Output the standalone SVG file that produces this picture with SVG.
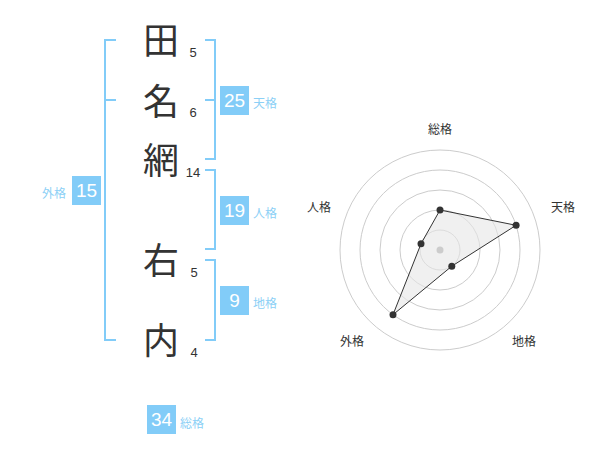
<svg xmlns="http://www.w3.org/2000/svg" width="600" height="470" viewBox="0 0 600 470">
<style>
.ch{font-family:"Noto Sans CJK JP","Noto Sans CJK SC",sans-serif;font-size:36px;fill:#333;text-anchor:middle}
.st{font-family:"Liberation Sans",Arial,sans-serif;font-size:13px;fill:#333;text-anchor:middle}
.br{fill:none;stroke:#82CCF8;stroke-width:2}
.box{fill:#82CCF8}
.num{font-family:"Liberation Sans",Arial,sans-serif;font-size:19px;fill:#fff;text-anchor:middle}
.lb{font-family:"Noto Sans CJK JP","Noto Sans CJK SC",sans-serif;font-size:12px;fill:#8CD0F6}
.ring{fill:none;stroke:#ccc;stroke-width:1}
.rl{font-family:"Noto Sans CJK JP","Noto Sans CJK SC",sans-serif;font-size:12px;fill:#333;text-anchor:middle}
.dot{fill:#333}
</style>
<g id="chars">
<text class="ch" x="161" y="54">田</text>
<text class="ch" x="161" y="115">名</text>
<text class="ch" x="161" y="174">網</text>
<text class="ch" x="161" y="274">右</text>
<text class="ch" x="161" y="354">内</text>
</g>
<g id="strokes">
<text class="st" x="193" y="57">5</text>
<text class="st" x="193" y="117">6</text>
<text class="st" x="193" y="177">14</text>
<text class="st" x="194" y="277">5</text>
<text class="st" x="194" y="357">4</text>
</g>
<g id="connectors">
<path class="br" d="M116,40 H105 V340 H116 M105,100 H116"/>
<path class="br" d="M205,40 H215 V159 H205 M205,100 H215"/>
<path class="br" d="M205,170 H215 V249 H205"/>
<path class="br" d="M205,260 H215 V340 H205"/>
</g>
<g id="tenkaku">
<rect class="box" x="220" y="86" width="29" height="29"/>
<text class="num" x="234.5" y="107">25</text>
<text class="lb" x="253" y="108">天格</text>
</g>
<g id="jinkaku">
<rect class="box" x="220" y="196" width="29" height="29"/>
<text class="num" x="234.5" y="217">19</text>
<text class="lb" x="253" y="218">人格</text>
</g>
<g id="chikaku">
<rect class="box" x="220" y="286" width="29" height="29"/>
<text class="num" x="234.5" y="307">9</text>
<text class="lb" x="253" y="308">地格</text>
</g>
<g id="gaikaku">
<rect class="box" x="72" y="176" width="29" height="29"/>
<text class="num" x="86.5" y="197">15</text>
<text class="lb" x="42" y="198">外格</text>
</g>
<g id="soukaku">
<rect class="box" x="147" y="405" width="29" height="29"/>
<text class="num" x="161.5" y="426">34</text>
<text class="lb" x="180" y="428">総格</text>
</g>
<g id="radar">
<circle class="ring" cx="440" cy="250" r="20"/>
<circle class="ring" cx="440" cy="250" r="40"/>
<circle class="ring" cx="440" cy="250" r="60"/>
<circle class="ring" cx="440" cy="250" r="80"/>
<circle class="ring" cx="440" cy="250" r="100"/>
<polygon points="440,210 516.1,225.3 451.8,266.2 393,314.7 421,243.8" fill="#e6e6e6" fill-opacity="0.6" stroke="#333" stroke-width="1"/>
<circle cx="440" cy="250" r="3.5" fill="#ccc"/>
<circle class="dot" cx="440" cy="210" r="3.5"/>
<circle class="dot" cx="516.1" cy="225.3" r="3.5"/>
<circle class="dot" cx="451.8" cy="266.2" r="3.5"/>
<circle class="dot" cx="393" cy="314.7" r="3.5"/>
<circle class="dot" cx="421" cy="243.8" r="3.5"/>
<text class="rl" x="440" y="134">総格</text>
<text class="rl" x="563" y="212">天格</text>
<text class="rl" x="524" y="346">地格</text>
<text class="rl" x="352" y="346">外格</text>
<text class="rl" x="319" y="212">人格</text>
</g>
</svg>
